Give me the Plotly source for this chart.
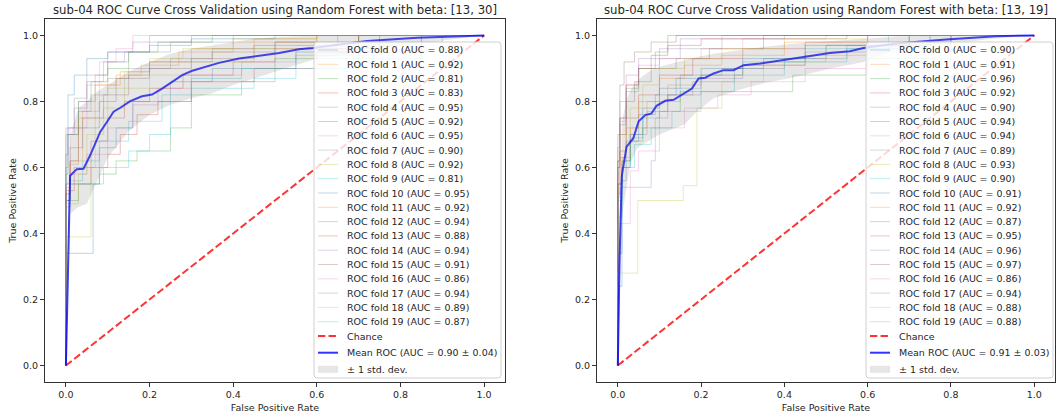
import plotly.graph_objects as go

W, H = 1056, 418

# ---------------- data ----------------
titles = ["sub-04 ROC Curve Cross Validation using Random Forest with beta: [13, 30]",
          "sub-04 ROC Curve Cross Validation using Random Forest with beta: [13, 19]"]

auc_left = [0.88, 0.92, 0.81, 0.83, 0.95, 0.92, 0.95, 0.90, 0.92, 0.81,
            0.95, 0.92, 0.94, 0.88, 0.94, 0.91, 0.86, 0.94, 0.89, 0.87]
auc_right = [0.90, 0.91, 0.96, 0.92, 0.90, 0.94, 0.94, 0.89, 0.93, 0.90,
             0.91, 0.92, 0.87, 0.95, 0.96, 0.97, 0.86, 0.94, 0.88, 0.88]
mean_auc_left, std_auc_left = 0.90, 0.04
mean_auc_right, std_auc_right = 0.91, 0.03

# fold step curves (corner points), left panel
folds_left_fpr = [
    [0, 0.065, 0.08, 0.12, 0.16, 0.25, 0.35, 0.55, 0.75, 0.9, 1.0],
    [0, 0.01, 0.04, 0.08, 0.13, 0.2, 0.3, 0.45, 0.6, 1.0],
    [0, 0.03, 0.08, 0.12, 0.17, 0.25, 0.3, 0.42, 0.5, 0.7, 1.0],
    [0, 0.01, 0.06, 0.1, 0.13, 0.17, 0.22, 0.3, 0.45, 0.6, 0.85, 1.0],
    [0, 0.005, 0.03, 0.07, 0.1, 0.16, 0.2, 0.3, 1.0],
    [0, 0.01, 0.04, 0.09, 0.15, 0.2, 0.35, 0.5, 0.7, 1.0],
    [0, 0.01, 0.05, 0.08, 0.12, 0.16, 0.25, 1.0],
    [0, 0.0, 0.03, 0.06, 0.1, 0.15, 0.25, 0.35, 0.5, 0.7, 1.0],
    [0, 0.06, 0.07, 0.1, 0.14, 0.2, 0.28, 0.4, 0.6, 1.0],
    [0, 0.01, 0.09, 0.15, 0.2, 0.25, 0.3, 0.45, 0.55, 0.7, 0.85, 1.0],
    [0, 0.005, 0.02, 0.05, 0.1, 0.2, 0.3, 0.5, 1.0],
    [0, 0.01, 0.03, 0.07, 0.12, 0.18, 0.27, 0.4, 0.6, 1.0],
    [0, 0.005, 0.03, 0.06, 0.1, 0.15, 0.22, 0.35, 1.0],
    [0, 0.02, 0.06, 0.1, 0.14, 0.2, 0.28, 0.4, 0.5, 0.7, 1.0],
    [0, 0.005, 0.02, 0.05, 0.09, 0.14, 0.2, 0.3, 0.45, 1.0],
    [0, 0.01, 0.03, 0.08, 0.12, 0.2, 0.3, 0.45, 0.65, 1.0],
    [0, 0.01, 0.05, 0.1, 0.16, 0.22, 0.3, 0.42, 0.55, 0.75, 1.0],
    [0, 0.0, 0.02, 0.05, 0.1, 0.15, 0.25, 0.4, 1.0],
    [0, 0.03, 0.05, 0.09, 0.14, 0.2, 0.3, 0.45, 0.6, 1.0],
    [0, 0.01, 0.04, 0.08, 0.15, 0.23, 0.3, 0.42, 0.55, 0.75, 1.0],
]
folds_left_tpr = [
    [0, 0.34, 0.55, 0.66, 0.72, 0.80, 0.86, 0.90, 0.95, 0.98, 1.0],
    [0, 0.5, 0.62, 0.77, 0.85, 0.89, 0.92, 0.96, 0.99, 1.0],
    [0, 0.5, 0.55, 0.58, 0.62, 0.65, 0.72, 0.82, 0.86, 0.93, 1.0],
    [0, 0.52, 0.55, 0.6, 0.64, 0.7, 0.76, 0.8, 0.86, 0.9, 0.95, 1.0],
    [0, 0.6, 0.72, 0.8, 0.88, 0.95, 0.98, 1.0, 1.0],
    [0, 0.55, 0.66, 0.75, 0.82, 0.88, 0.92, 0.95, 0.98, 1.0],
    [0, 0.52, 0.72, 0.85, 0.92, 0.96, 1.0, 1.0],
    [0, 0.64, 0.7, 0.77, 0.82, 0.87, 0.9, 0.93, 0.96, 0.98, 1.0],
    [0, 0.39, 0.6, 0.75, 0.84, 0.89, 0.93, 0.96, 0.99, 1.0],
    [0, 0.48, 0.55, 0.6, 0.65, 0.7, 0.8, 0.84, 0.87, 0.9, 0.93, 1.0],
    [0, 0.64, 0.82, 0.88, 0.93, 0.95, 0.97, 0.99, 1.0],
    [0, 0.54, 0.61, 0.75, 0.85, 0.88, 0.91, 0.95, 0.98, 1.0],
    [0, 0.58, 0.7, 0.8, 0.86, 0.9, 0.95, 0.98, 1.0],
    [0, 0.53, 0.6, 0.68, 0.75, 0.8, 0.84, 0.88, 0.92, 0.96, 1.0],
    [0, 0.55, 0.7, 0.78, 0.86, 0.92, 0.95, 0.98, 1.0, 1.0],
    [0, 0.5, 0.62, 0.72, 0.8, 0.87, 0.9, 0.93, 0.97, 1.0],
    [0, 0.5, 0.58, 0.64, 0.72, 0.79, 0.84, 0.88, 0.92, 0.96, 1.0],
    [0, 0.62, 0.72, 0.81, 0.88, 0.92, 0.95, 0.98, 1.0],
    [0, 0.49, 0.58, 0.7, 0.78, 0.84, 0.88, 0.92, 0.96, 1.0],
    [0, 0.5, 0.56, 0.62, 0.68, 0.74, 0.82, 0.87, 0.9, 0.94, 1.0],
]

# fold step curves (corner points), right panel
folds_right_fpr = [
    [0, 0.01, 0.03, 0.06, 0.1, 0.15, 0.25, 0.35, 0.5, 0.7, 1.0],
    [0, 0.01, 0.03, 0.07, 0.12, 0.2, 0.3, 0.45, 0.6, 0.8, 1.0],
    [0, 0.005, 0.02, 0.05, 0.09, 0.12, 0.15, 1.0],
    [0, 0.005, 0.02, 0.05, 0.1, 0.18, 0.3, 0.45, 0.6, 1.0],
    [0, 0.005, 0.08, 0.09, 0.12, 0.2, 0.3, 0.45, 0.6, 0.8, 1.0],
    [0, 0.005, 0.02, 0.04, 0.08, 0.14, 0.22, 0.35, 0.55, 1.0],
    [0, 0.005, 0.02, 0.05, 0.1, 0.2, 0.3, 0.5, 1.0],
    [0, 0.01, 0.03, 0.07, 0.12, 0.18, 0.28, 0.4, 0.55, 0.75, 1.0],
    [0, 0.005, 0.03, 0.06, 0.1, 0.16, 0.25, 0.4, 0.6, 1.0],
    [0, 0.01, 0.03, 0.06, 0.1, 0.15, 0.2, 0.3, 0.45, 0.65, 1.0],
    [0, 0.01, 0.02, 0.05, 0.09, 0.14, 0.2, 0.3, 0.45, 0.7, 1.0],
    [0, 0.005, 0.02, 0.05, 0.1, 0.16, 0.25, 0.4, 0.6, 1.0],
    [0, 0.01, 0.03, 0.06, 0.1, 0.15, 0.25, 0.42, 0.6, 0.8, 1.0],
    [0, 0.005, 0.02, 0.05, 0.08, 0.12, 0.2, 0.35, 1.0],
    [0, 0.005, 0.02, 0.05, 0.1, 0.15, 0.25, 1.0],
    [0, 0.005, 0.015, 0.04, 0.08, 0.14, 0.25, 1.0],
    [0, 0.03, 0.05, 0.1, 0.16, 0.24, 0.32, 0.45, 0.6, 0.8, 1.0],
    [0, 0.005, 0.02, 0.05, 0.1, 0.15, 0.25, 0.4, 1.0],
    [0, 0.048, 0.157, 0.19, 0.25, 0.35, 0.5, 0.7, 1.0],
    [0, 0.01, 0.04, 0.08, 0.13, 0.2, 0.28, 0.4, 0.55, 0.75, 1.0],
]
folds_right_tpr = [
    [0, 0.34, 0.6, 0.7, 0.78, 0.84, 0.88, 0.9, 0.93, 0.97, 1.0],
    [0, 0.55, 0.63, 0.72, 0.8, 0.85, 0.88, 0.91, 0.94, 0.98, 1.0],
    [0, 0.62, 0.75, 0.84, 0.9, 0.95, 1.0, 1.0],
    [0, 0.52, 0.65, 0.75, 0.82, 0.88, 0.93, 0.96, 0.98, 1.0],
    [0, 0.51, 0.54, 0.62, 0.75, 0.82, 0.87, 0.91, 0.95, 0.98, 1.0],
    [0, 0.6, 0.7, 0.8, 0.86, 0.9, 0.93, 0.96, 0.99, 1.0],
    [0, 0.62, 0.74, 0.85, 0.91, 0.93, 0.96, 0.99, 1.0],
    [0, 0.55, 0.62, 0.7, 0.77, 0.82, 0.86, 0.9, 0.93, 0.97, 1.0],
    [0, 0.58, 0.7, 0.78, 0.85, 0.9, 0.93, 0.96, 0.99, 1.0],
    [0, 0.45, 0.6, 0.69, 0.75, 0.8, 0.84, 0.88, 0.92, 0.96, 1.0],
    [0, 0.24, 0.56, 0.68, 0.76, 0.82, 0.87, 0.9, 0.93, 0.97, 1.0],
    [0, 0.55, 0.63, 0.72, 0.8, 0.87, 0.91, 0.94, 0.98, 1.0],
    [0, 0.55, 0.62, 0.68, 0.72, 0.77, 0.83, 0.83, 0.88, 0.93, 1.0],
    [0, 0.6, 0.75, 0.85, 0.9, 0.94, 0.97, 0.99, 1.0],
    [0, 0.66, 0.8, 0.88, 0.93, 0.96, 0.99, 1.0],
    [0, 0.7, 0.85, 0.92, 0.95, 0.98, 1.0, 1.0],
    [0, 0.43, 0.59, 0.65, 0.72, 0.78, 0.82, 0.86, 0.9, 0.95, 1.0],
    [0, 0.62, 0.73, 0.83, 0.9, 0.93, 0.96, 0.99, 1.0],
    [0, 0.28, 0.5, 0.545, 0.78, 0.86, 0.92, 0.97, 1.0],
    [0, 0.5, 0.6, 0.67, 0.72, 0.77, 0.83, 0.88, 0.92, 0.96, 1.0],
]

# mean ROC curves
mean_left_fpr = [0, 0.01, 0.026, 0.042, 0.058, 0.074, 0.082, 0.098, 0.114, 0.13, 0.154, 0.182,
                 0.206, 0.23, 0.254, 0.278, 0.302, 0.334, 0.366, 0.414, 0.461, 0.51, 0.557,
                 0.59, 0.65, 0.72, 0.84, 0.92, 1.0]
mean_left_tpr = [0, 0.575, 0.595, 0.596, 0.637, 0.685, 0.708, 0.738, 0.769, 0.781, 0.801, 0.816,
                 0.821, 0.839, 0.86, 0.88, 0.893, 0.905, 0.917, 0.93, 0.938, 0.947, 0.958,
                 0.962, 0.972, 0.983, 0.993, 0.997, 1.0]
mean_right_fpr = [0, 0.004, 0.0095, 0.021, 0.037, 0.05, 0.066, 0.081, 0.093, 0.114, 0.134, 0.166,
                  0.178, 0.194, 0.21, 0.23, 0.254, 0.278, 0.302, 0.342, 0.382, 0.422, 0.462,
                  0.509, 0.557, 0.59, 0.669, 0.788, 0.908, 1.0]
mean_right_tpr = [0, 0.311, 0.574, 0.663, 0.688, 0.74, 0.759, 0.764, 0.787, 0.802, 0.805, 0.831,
                  0.839, 0.87, 0.872, 0.885, 0.895, 0.895, 0.91, 0.915, 0.922, 0.93, 0.938,
                  0.947, 0.952, 0.962, 0.976, 0.988, 0.998, 1.0]

# +/- 1 std band
band_left_fpr = [0, 0.01, 0.02, 0.03, 0.05, 0.075, 0.1, 0.125, 0.15, 0.2, 0.25, 0.3, 0.35,
                 0.4, 0.45, 0.5, 0.6, 0.7, 0.8, 0.9, 1.0]
band_left_upper = [0, 0.69, 0.74, 0.78, 0.80, 0.83, 0.85, 0.87, 0.89, 0.92, 0.945, 0.96, 0.97,
                   0.98, 0.99, 0.995, 1.0, 1.0, 1.0, 1.0, 1.0]
band_left_lower = [0, 0.46, 0.47, 0.48, 0.49, 0.56, 0.63, 0.67, 0.71, 0.76, 0.79, 0.81, 0.825,
                   0.85, 0.87, 0.89, 0.93, 0.95, 0.97, 0.985, 1.0]
band_right_fpr = [0, 0.01, 0.02, 0.03, 0.045, 0.06, 0.08, 0.1, 0.13, 0.16, 0.19, 0.23, 0.29,
                  0.35, 0.43, 0.51, 0.59, 0.67, 0.8, 0.9, 1.0]
band_right_upper = [0, 0.74, 0.80, 0.834, 0.86, 0.877, 0.895, 0.905, 0.915, 0.925, 0.935, 0.945,
                    0.955, 0.966, 0.976, 0.983, 0.991, 0.997, 1.0, 1.0, 1.0]
band_right_lower = [0, 0.45, 0.53, 0.61, 0.655, 0.67, 0.685, 0.70, 0.715, 0.73, 0.77, 0.81,
                    0.835, 0.855, 0.875, 0.9, 0.92, 0.958, 0.975, 0.99, 1.0]

chance_x = [0, 1]
chance_y = [0, 1]
tick_vals = [0.0, 0.2, 0.4, 0.6, 0.8, 1.0]
tick_text = ["0.0", "0.2", "0.4", "0.6", "0.8", "1.0"]

# ---------------- style ----------------
tab10 = ['#1f77b4', '#ff7f0e', '#2ca02c', '#d62728', '#9467bd',
         '#8c564b', '#e377c2', '#7f7f7f', '#bcbd22', '#17becf']


def rgba(hx, a):
    hx = hx.lstrip('#')
    return "rgba(%d,%d,%d,%s)" % (int(hx[0:2], 16), int(hx[2:4], 16), int(hx[4:6], 16), a)


FONT = "DejaVu Sans"
TXT = "#262626"


def pxx(x):
    return x / W


def pxy(y):
    return 1 - y / H


def rounded_rect_path(x0, y0, x1, y1, r):
    # pixel coords (y downwards) -> paper-coordinate SVG path with rounded corners
    pts = []
    def P(x, y):
        return "%f,%f" % (pxx(x), pxy(y))
    return ("M " + P(x0 + r, y0) + " L " + P(x1 - r, y0) + " Q " + P(x1, y0) + " " + P(x1, y0 + r) +
            " L " + P(x1, y1 - r) + " Q " + P(x1, y1) + " " + P(x1 - r, y1) +
            " L " + P(x0 + r, y1) + " Q " + P(x0, y1) + " " + P(x0, y1 - r) +
            " L " + P(x0, y0 + r) + " Q " + P(x0, y0) + " " + P(x0 + r, y0) + " Z")


# panel geometry in pixels
panels = [
    dict(x0=45, x1=505, leg_x0=314, leg_x1=501),
    dict(x0=597, x1=1055, leg_x0=866, leg_x1=1053),
]
ax_top, ax_bot = 19, 382

fig = go.Figure()
shapes = []
annotations = []

panel_data = [
    (folds_left_fpr, folds_left_tpr, auc_left, mean_left_fpr, mean_left_tpr,
     band_left_fpr, band_left_upper, band_left_lower, mean_auc_left, std_auc_left),
    (folds_right_fpr, folds_right_tpr, auc_right, mean_right_fpr, mean_right_tpr,
     band_right_fpr, band_right_upper, band_right_lower, mean_auc_right, std_auc_right),
]

for p, (ffpr, ftpr, aucs, mfpr, mtpr, bfpr, bup, blo, mauc, sauc) in enumerate(panel_data):
    xa = "x" if p == 0 else "x2"
    ya = "y" if p == 0 else "y2"
    for i in range(len(ffpr)):
        fig.add_trace(go.Scatter(
            x=ffpr[i], y=ftpr[i], mode="lines", xaxis=xa, yaxis=ya,
            line=dict(color=rgba(tab10[i % 10], 0.3), width=1, shape="vh"),
            showlegend=False, hoverinfo="skip"))
    fig.add_trace(go.Scatter(
        x=chance_x, y=chance_y, mode="lines", xaxis=xa, yaxis=ya,
        line=dict(color="rgba(255,0,0,0.8)", width=2, dash="7.4px,3.2px"),
        showlegend=False, hoverinfo="skip"))
    fig.add_trace(go.Scatter(
        x=mfpr, y=mtpr, mode="lines", xaxis=xa, yaxis=ya,
        line=dict(color="rgba(0,0,255,0.8)", width=2),
        showlegend=False, hoverinfo="skip"))
    fig.add_trace(go.Scatter(
        x=list(bfpr) + list(bfpr[::-1]), y=list(bup) + list(blo[::-1]),
        mode="lines", fill="toself", fillcolor="rgba(128,128,128,0.2)",
        line=dict(width=0, color="rgba(0,0,0,0)"), xaxis=xa, yaxis=ya,
        showlegend=False, hoverinfo="skip"))

    g = panels[p]
    # title
    annotations.append(dict(
        x=pxx((g["x0"] + g["x1"]) / 2), y=pxy(10), xref="paper", yref="paper",
        text=titles[p], showarrow=False, xanchor="center", yanchor="middle",
        font=dict(family=FONT, size=11.7, color=TXT)))

    # legend (manual, matplotlib-like)
    lx0, lx1 = g["leg_x0"], g["leg_x1"]
    shapes.append(dict(type="path", xref="paper", yref="paper", layer="above",
                       path=rounded_rect_path(lx0, 42, lx1, 378, 3),
                       fillcolor="rgba(255,255,255,0.8)",
                       line=dict(color="#d0d0d0", width=1)))
    labels = ["ROC fold %d (AUC = %.2f)" % (i, a) for i, a in enumerate(aucs)]
    rows_y = [50 + 14.3 * i for i in range(len(labels))]
    for i, (lab, yy) in enumerate(zip(labels, rows_y)):
        shapes.append(dict(type="line", xref="paper", yref="paper", layer="above",
                           x0=pxx(lx0 + 4), x1=pxx(lx0 + 24), y0=pxy(yy), y1=pxy(yy),
                           line=dict(color=rgba(tab10[i % 10], 0.3), width=1)))
        annotations.append(dict(x=pxx(lx0 + 31), y=pxy(yy), xref="paper", yref="paper",
                                text=lab, showarrow=False, xanchor="left", yanchor="middle",
                                font=dict(family=FONT, size=9.5, color=TXT)))
    y_ch, y_mn, y_sd = 336, 352.7, 369.3
    shapes.append(dict(type="line", xref="paper", yref="paper", layer="above",
                       x0=pxx(lx0 + 4), x1=pxx(lx0 + 24), y0=pxy(y_ch), y1=pxy(y_ch),
                       line=dict(color="rgba(255,0,0,0.8)", width=2, dash="7.4px,3.2px")))
    shapes.append(dict(type="line", xref="paper", yref="paper", layer="above",
                       x0=pxx(lx0 + 4), x1=pxx(lx0 + 24), y0=pxy(y_mn), y1=pxy(y_mn),
                       line=dict(color="rgba(0,0,255,0.8)", width=2)))
    shapes.append(dict(type="rect", xref="paper", yref="paper", layer="above",
                       x0=pxx(lx0 + 4), x1=pxx(lx0 + 24), y0=pxy(y_sd + 3.5), y1=pxy(y_sd - 3.5),
                       fillcolor="rgba(128,128,128,0.2)", line=dict(width=0)))
    for txt, yy in [("Chance", y_ch),
                    ("Mean ROC (AUC = %.2f ± %.2f)" % (mauc, sauc), y_mn),
                    ("± 1 std. dev.", y_sd)]:
        annotations.append(dict(x=pxx(lx0 + 31), y=pxy(yy), xref="paper", yref="paper",
                                text=txt, showarrow=False, xanchor="left", yanchor="middle",
                                font=dict(family=FONT, size=9.5, color=TXT)))

axis_common = dict(
    range=[-0.05, 1.05], showgrid=False, zeroline=False,
    showline=True, linecolor="#333333", linewidth=1, mirror=True,
    ticks="outside", ticklen=4, tickwidth=1, tickcolor="#333333",
    tickvals=tick_vals, ticktext=tick_text,
    tickfont=dict(family=FONT, size=9.5, color=TXT), automargin=False,
)
ydom = [1 - ax_bot / H, 1 - ax_top / H]
fig.update_layout(
    width=W, height=H, autosize=False,
    margin=dict(l=0, r=0, t=0, b=0),
    paper_bgcolor="white", plot_bgcolor="white",
    font=dict(family=FONT, color=TXT),
    xaxis=dict(domain=[pxx(45), pxx(505)], anchor="y",
               title=dict(text="False Positive Rate", standoff=4,
                          font=dict(family=FONT, size=9.5, color=TXT)), **axis_common),
    yaxis=dict(domain=ydom, anchor="x",
               title=dict(text="True Positive Rate", standoff=4,
                          font=dict(family=FONT, size=9.5, color=TXT)), **axis_common),
    xaxis2=dict(domain=[pxx(597), pxx(1055)], anchor="y2",
                title=dict(text="False Positive Rate", standoff=4,
                           font=dict(family=FONT, size=9.5, color=TXT)), **axis_common),
    yaxis2=dict(domain=ydom, anchor="x2",
                title=dict(text="True Positive Rate", standoff=4,
                           font=dict(family=FONT, size=9.5, color=TXT)), **axis_common),
    shapes=shapes, annotations=annotations, showlegend=False,
)

fig.write_html("out.html")
